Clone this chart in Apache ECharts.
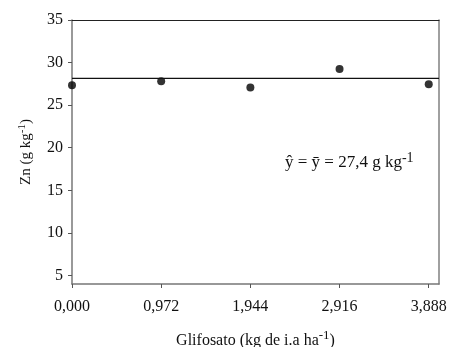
<!DOCTYPE html>
<html>
<head>
<meta charset="utf-8">
<script src="https://cdn.jsdelivr.net/npm/echarts@6/dist/echarts.min.js"></script>
<style>
  html, body { margin: 0; padding: 0; background: #fff; }
  #chart { width: 453px; height: 347px; }
</style>
</head>
<body>
<div id="chart"></div>
<script>
// dose de glifosato (kg i.a. ha-1) e teor de Zn (g kg-1)
const doses = [0, 0.972, 1.944, 2.916, 3.888];
const zn = [27.35, 27.8, 27.07, 29.26, 27.46];
const meanX = [0, 4];
const meanY = [28.15, 28.15];
const yTicks = [5, 10, 15, 20, 25, 30, 35];

const serif = "Liberation Serif";
const fmtComma = (v) => v.toFixed(3).replace(".", ",");

const chart = echarts.init(document.getElementById("chart"), null, { renderer: "canvas" });

chart.setOption({
  animation: false,
  grid: {
    left: 72, right: 14, top: 20, bottom: 63,
    outerBoundsMode: "none",
    containLabel: false,
  },
  xAxis: [
    {
      type: "value",
      min: 0,
      max: 4,
      name: "Glifosato (kg de i.a ha{sup|-1})",
      nameLocation: "middle",
      nameGap: 45,
      nameTextStyle: {
        fontFamily: serif, fontSize: 16, color: "#111",
        rich: { sup: { fontFamily: serif, fontSize: 13, color: "#111", padding: [0, 0, 10, 0] } },
      },
      splitLine: { show: false },
      axisLine: { onZero: false, lineStyle: { color: "#777", width: 1.5 } },
      axisTick: { customValues: doses, length: 4, lineStyle: { color: "#555" } },
      axisLabel: {
        customValues: doses,
        formatter: fmtComma,
        fontFamily: serif, fontSize: 16, color: "#111", margin: 15,
      },
    },
    {
      // borda superior escura
      type: "value",
      position: "top",
      min: 0,
      max: 4,
      splitLine: { show: false },
      axisLine: { show: true, onZero: false, lineStyle: { color: "#222", width: 1.2 } },
      axisTick: { show: false },
      axisLabel: { show: false },
    },
  ],
  yAxis: [
    {
      type: "value",
      min: 4,
      max: 35,
      name: "Zn (g kg{sup|-1})",
      nameLocation: "middle",
      nameGap: 36,
      nameTextStyle: {
        fontFamily: serif, fontSize: 15, color: "#111",
        rich: { sup: { fontFamily: serif, fontSize: 11, color: "#111", padding: [0, 0, 8, 0] } },
      },
      splitLine: { show: false },
      axisLine: { show: true, onZero: false, lineStyle: { color: "#777", width: 1.5 } },
      axisTick: { customValues: yTicks, length: 4, lineStyle: { color: "#555" } },
      axisLabel: {
        customValues: yTicks,
        fontFamily: serif, fontSize: 16, color: "#111", margin: 9,
      },
    },
    {
      // borda direita cinza
      type: "value",
      position: "right",
      min: 4,
      max: 35,
      splitLine: { show: false },
      axisLine: { show: true, onZero: false, lineStyle: { color: "#808080", width: 1.5 } },
      axisTick: { show: false },
      axisLabel: { show: false },
    },
  ],
  graphic: [
    {
      type: "text",
      left: 285,
      top: 151,
      style: {
        text: "{t|ŷ = ȳ = 27,4 g kg}{sup|-1}",
        rich: {
          t: { fontFamily: serif, fontSize: 17, fill: "#111" },
          sup: { fontFamily: serif, fontSize: 14, fill: "#111", padding: [0, 0, 10, 0] },
        },
      },
    },
  ],
  series: [
    {
      type: "line",
      data: meanX.map((x, i) => [x, meanY[i]]),
      showSymbol: false,
      silent: true,
      lineStyle: { color: "#111", width: 1.2 },
    },
    {
      type: "scatter",
      data: doses.map((d, i) => [d, zn[i]]),
      symbolSize: 8,
      itemStyle: { color: "#000" },
      clip: false,
    },
  ],
});
</script>
</body>
</html>
